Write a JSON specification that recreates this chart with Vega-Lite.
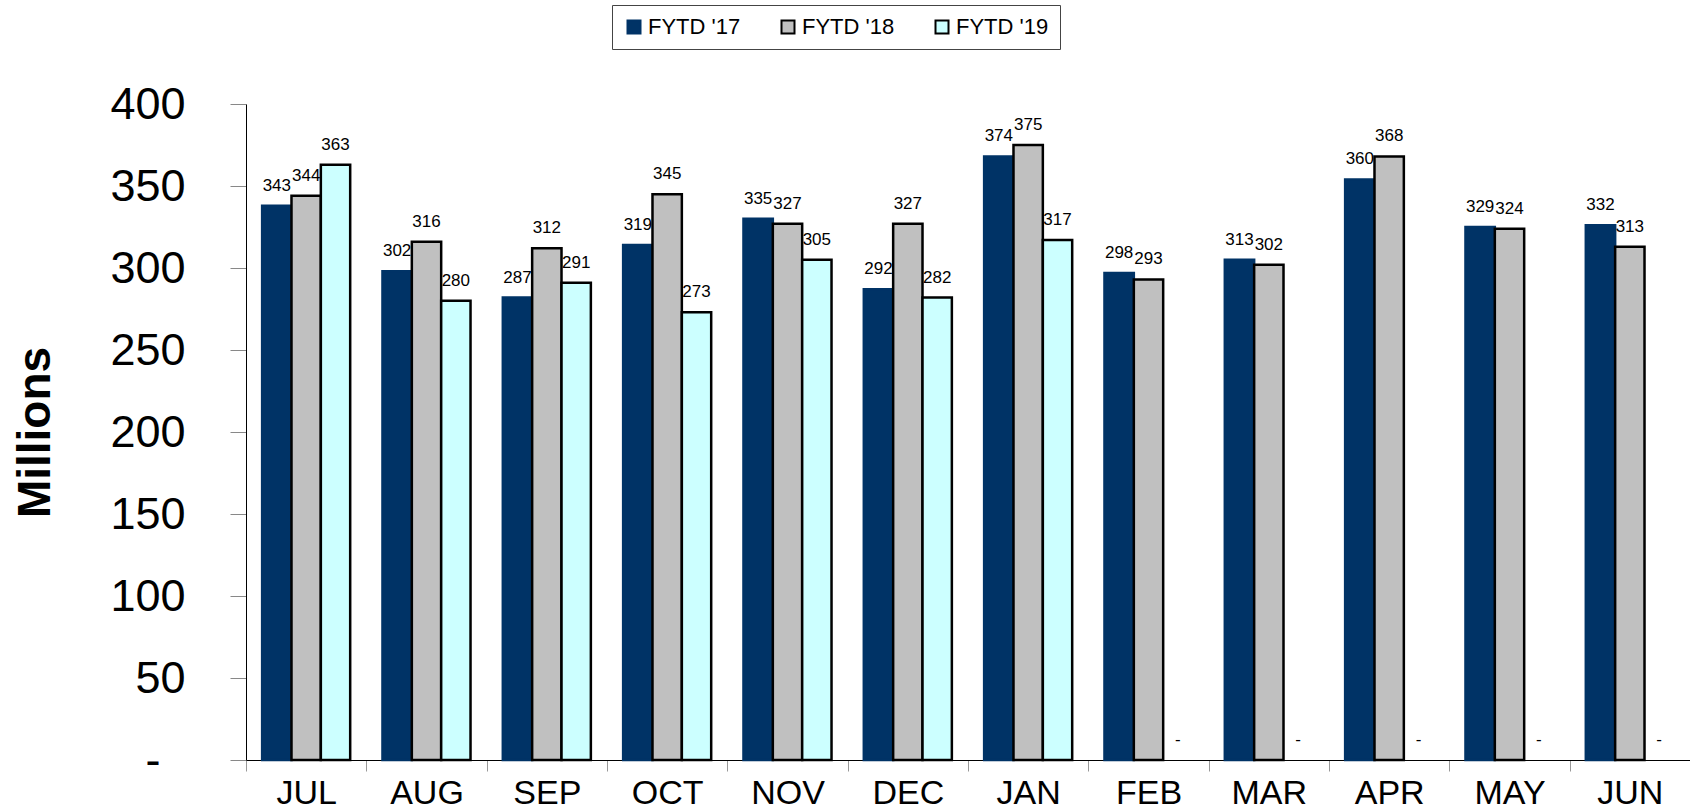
{
  "$schema": "https://vega.github.io/schema/vega-lite/v6.json",
  "width": 1444,
  "height": 656,
  "autosize": {"type": "none"},
  "padding": {"left": 246, "top": 104, "right": 0, "bottom": 51},
  "background": "white",
  "config": {"view": {"stroke": null}, "font": "Liberation Sans"},
  "data": {
    "values": [
      {"month": "JUL", "series": "FYTD '17", "value": 338, "label": "343"},
      {"month": "JUL", "series": "FYTD '18", "value": 344, "label": "344"},
      {"month": "JUL", "series": "FYTD '19", "value": 363, "label": "363"},
      {"month": "AUG", "series": "FYTD '17", "value": 298, "label": "302"},
      {"month": "AUG", "series": "FYTD '18", "value": 316, "label": "316"},
      {"month": "AUG", "series": "FYTD '19", "value": 280, "label": "280"},
      {"month": "SEP", "series": "FYTD '17", "value": 282, "label": "287"},
      {"month": "SEP", "series": "FYTD '18", "value": 312, "label": "312"},
      {"month": "SEP", "series": "FYTD '19", "value": 291, "label": "291"},
      {"month": "OCT", "series": "FYTD '17", "value": 314, "label": "319"},
      {"month": "OCT", "series": "FYTD '18", "value": 345, "label": "345"},
      {"month": "OCT", "series": "FYTD '19", "value": 273, "label": "273"},
      {"month": "NOV", "series": "FYTD '17", "value": 330, "label": "335"},
      {"month": "NOV", "series": "FYTD '18", "value": 327, "label": "327"},
      {"month": "NOV", "series": "FYTD '19", "value": 305, "label": "305"},
      {"month": "DEC", "series": "FYTD '17", "value": 287, "label": "292"},
      {"month": "DEC", "series": "FYTD '18", "value": 327, "label": "327"},
      {"month": "DEC", "series": "FYTD '19", "value": 282, "label": "282"},
      {"month": "JAN", "series": "FYTD '17", "value": 368, "label": "374"},
      {"month": "JAN", "series": "FYTD '18", "value": 375, "label": "375"},
      {"month": "JAN", "series": "FYTD '19", "value": 317, "label": "317"},
      {"month": "FEB", "series": "FYTD '17", "value": 297, "label": "298"},
      {"month": "FEB", "series": "FYTD '18", "value": 293, "label": "293"},
      {"month": "FEB", "series": "FYTD '19", "value": 0, "label": "-"},
      {"month": "MAR", "series": "FYTD '17", "value": 305, "label": "313"},
      {"month": "MAR", "series": "FYTD '18", "value": 302, "label": "302"},
      {"month": "MAR", "series": "FYTD '19", "value": 0, "label": "-"},
      {"month": "APR", "series": "FYTD '17", "value": 354, "label": "360"},
      {"month": "APR", "series": "FYTD '18", "value": 368, "label": "368"},
      {"month": "APR", "series": "FYTD '19", "value": 0, "label": "-"},
      {"month": "MAY", "series": "FYTD '17", "value": 325, "label": "329"},
      {"month": "MAY", "series": "FYTD '18", "value": 324, "label": "324"},
      {"month": "MAY", "series": "FYTD '19", "value": 0, "label": "-"},
      {"month": "JUN", "series": "FYTD '17", "value": 326, "label": "332"},
      {"month": "JUN", "series": "FYTD '18", "value": 313, "label": "313"},
      {"month": "JUN", "series": "FYTD '19", "value": 0, "label": "-"}
    ]
  },
  "encoding": {
    "x": {
      "field": "month",
      "type": "nominal",
      "sort": ["JUL", "AUG", "SEP", "OCT", "NOV", "DEC", "JAN", "FEB", "MAR", "APR", "MAY", "JUN"],
      "scale": {"paddingInner": 0, "paddingOuter": 0},
      "axis": {
        "title": null,
        "labelAngle": 0,
        "tickBand": "extent",
        "tickSize": 11,
        "tickColor": "#999999",
        "domainColor": "black",
        "labelFont": "Liberation Sans Narrow, Arial Narrow, Liberation Sans",
        "labelFontSize": 34,
        "labelColor": "black",
        "labelPadding": 5
      }
    },
    "xOffset": {
      "field": "series",
      "type": "nominal",
      "sort": ["FYTD '17", "FYTD '18", "FYTD '19"],
      "scale": {"paddingInner": 0, "paddingOuter": 0.55}
    },
    "y": {
      "field": "value",
      "type": "quantitative",
      "scale": {"domain": [0, 400], "nice": false},
      "axis": {
        "values": [0, 50, 100, 150, 200, 250, 300, 350, 400],
        "grid": false,
        "tickSize": 16,
        "tickColor": "#888888",
        "domainColor": "black",
        "labelFontSize": 45,
        "labelColor": "black",
        "labelPadding": 45,
        "labelExpr": "datum.value == 0 ? '-\u00a0\u00a0\u200b' : datum.label",
        "title": "Millions",
        "titleFontSize": 46,
        "titleFontWeight": "bold",
        "titleColor": "black",
        "titleAngle": -90,
        "titleX": -211,
        "titleY": 328,
        "titleAlign": "center",
        "titleBaseline": "middle"
      }
    }
  },
  "layer": [
    {
      "transform": [{"filter": "datum.value > 0"}],
      "mark": {"type": "bar", "strokeWidth": 2.5},
      "encoding": {
        "fill": {
          "field": "series",
          "type": "nominal",
          "scale": {"domain": ["FYTD '17", "FYTD '18", "FYTD '19"], "range": ["#003366", "#C0C0C0", "#CCFFFF"]},
          "legend": {
            "orient": "none",
            "legendX": 366,
            "legendY": -99,
            "direction": "horizontal",
            "title": null,
            "symbolType": "square",
            "symbolSize": 169,
            "symbolStrokeWidth": 2,
            "labelFontSize": 22,
            "labelFont": "Liberation Sans",
            "labelColor": "black",
            "labelOffset": 3,
            "columnPadding": 36,
            "padding": 11,
            "strokeColor": "#444444",
            "fillColor": "white"
          }
        },
        "stroke": {
          "field": "series",
          "type": "nominal",
          "scale": {"domain": ["FYTD '17", "FYTD '18", "FYTD '19"], "range": ["#003366", "black", "black"]},
          "legend": null
        }
      }
    },
    {
      "mark": {"type": "text", "dy": -15, "baseline": "alphabetic", "fontSize": 17, "color": "black"},
      "encoding": {"text": {"field": "label"}}
    }
  ]
}
